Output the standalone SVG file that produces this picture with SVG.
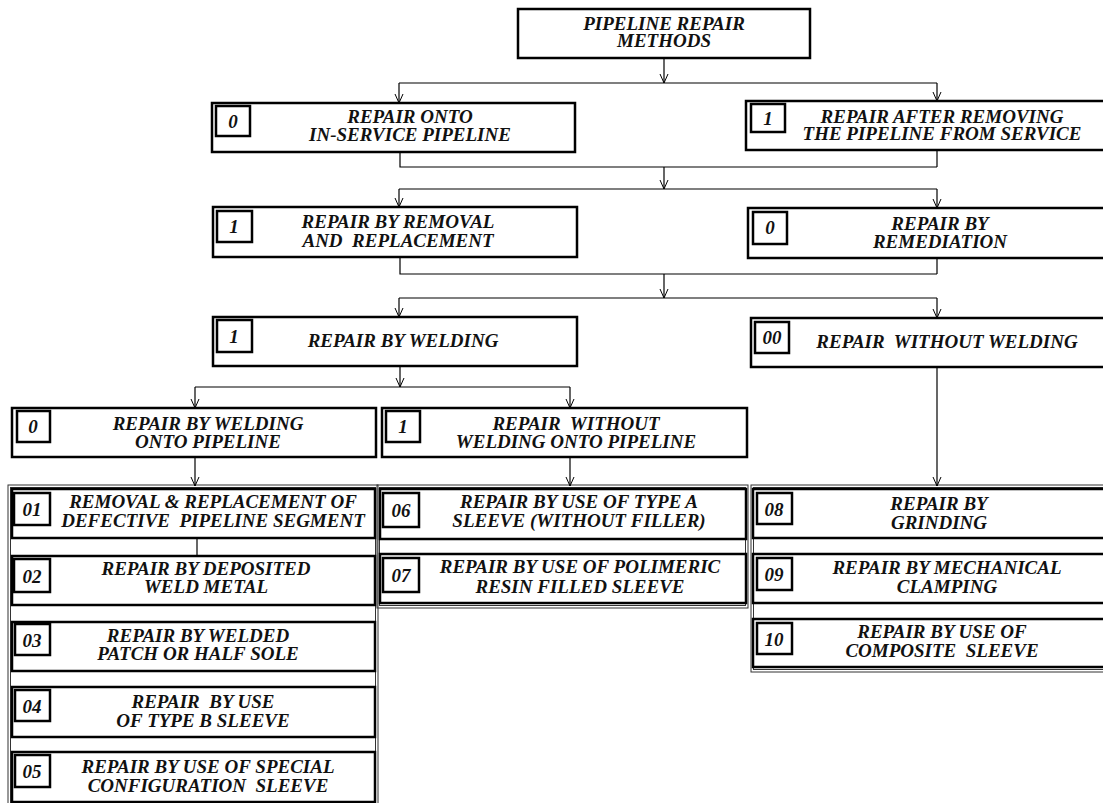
<svg xmlns="http://www.w3.org/2000/svg" width="1103" height="803" viewBox="0 0 1103 803">
<defs>
<style>
.box{fill:#fff;stroke:#000;stroke-width:2.5}
.lbl{fill:#fff;stroke:#000;stroke-width:2.5}
.grp{fill:none;stroke:#333;stroke-width:1}
.c{fill:none;stroke:#000;stroke-width:1.2}
text{font-family:"Liberation Serif","Times New Roman",serif;font-weight:bold;font-style:italic;font-size:19px;text-anchor:middle;white-space:pre;fill:#111}
</style>
<marker id="ah" markerUnits="userSpaceOnUse" markerWidth="12" markerHeight="12" viewBox="-1 -6 12 12" refX="9" refY="0" orient="auto">
<path d="M0,-4 L9,0 L0,4" fill="none" stroke="#000" stroke-width="1"/>
</marker>
</defs>
<rect width="1103" height="803" fill="#fff"/>

<g id="groups">
<rect class="grp" x="8" y="485" width="370" height="325"/>
<rect class="grp" x="10.5" y="487.5" width="365" height="320"/>
<rect class="grp" x="377" y="485" width="371" height="123"/>
<rect class="grp" x="379.5" y="487.5" width="366" height="118"/>
<rect class="grp" x="751" y="485" width="360" height="187"/>
<rect class="grp" x="753.5" y="487.5" width="360" height="182"/>
</g>

<g id="connectors">
<path class="c" d="M664,58 V83" marker-end="url(#ah)"/>
<path class="c" d="M399,83 H937"/>
<path class="c" d="M399,83 V103" marker-end="url(#ah)"/>
<path class="c" d="M937,83 V101" marker-end="url(#ah)"/>
<path class="c" d="M400,152 V167 H937 M937,150 V167"/>
<path class="c" d="M664,167 V189" marker-end="url(#ah)"/>
<path class="c" d="M399,189 H937"/>
<path class="c" d="M399,189 V207" marker-end="url(#ah)"/>
<path class="c" d="M937,189 V208" marker-end="url(#ah)"/>
<path class="c" d="M400,257 V274 H937 M937,258 V274"/>
<path class="c" d="M664,274 V298" marker-end="url(#ah)"/>
<path class="c" d="M399,298 H937"/>
<path class="c" d="M399,298 V317" marker-end="url(#ah)"/>
<path class="c" d="M937,298 V318" marker-end="url(#ah)"/>
<path class="c" d="M400,366 V387" marker-end="url(#ah)"/>
<path class="c" d="M195,387 H570"/>
<path class="c" d="M195,387 V408" marker-end="url(#ah)"/>
<path class="c" d="M570,387 V408" marker-end="url(#ah)"/>
<path class="c" d="M195,457 V486" marker-end="url(#ah)"/>
<path class="c" d="M570,457 V486" marker-end="url(#ah)"/>
<path class="c" d="M937,367 V486" marker-end="url(#ah)"/>
<path class="c" d="M197,538 V556"/>
</g>

<g id="n-root">
<rect class="box" x="518" y="9" width="292" height="49"/>
<text x="664" y="30">PIPELINE REPAIR</text>
<text x="664" y="47">METHODS</text>
</g>

<g id="n-a">
<rect class="box" x="212" y="103" width="363" height="49"/>
<rect class="lbl" x="216" y="106" width="34" height="30"/>
<text x="233" y="128">0</text>
<text x="410" y="123">REPAIR ONTO</text>
<text x="410" y="141">IN-SERVICE PIPELINE</text>
</g>

<g id="n-b">
<rect class="box" x="746" y="101" width="364" height="49"/>
<rect class="lbl" x="751" y="104" width="34" height="28"/>
<text x="768" y="125">1</text>
<text x="942" y="123">REPAIR AFTER REMOVING</text>
<text x="942" y="140">THE PIPELINE FROM SERVICE</text>
</g>

<g id="n-c">
<rect class="box" x="213" y="207" width="364" height="50"/>
<rect class="lbl" x="217" y="211" width="35" height="31"/>
<text x="234" y="233">1</text>
<text x="398" y="228">REPAIR BY REMOVAL</text>
<text x="398" y="247">AND  REPLACEMENT</text>
</g>

<g id="n-d">
<rect class="box" x="748" y="208" width="362" height="50"/>
<rect class="lbl" x="753" y="212" width="34" height="32"/>
<text x="770" y="234">0</text>
<text x="940" y="230">REPAIR BY</text>
<text x="940" y="248">REMEDIATION</text>
</g>

<g id="n-e">
<rect class="box" x="213" y="317" width="364" height="49"/>
<rect class="lbl" x="217" y="320" width="35" height="32"/>
<text x="234" y="343">1</text>
<text x="403" y="347">REPAIR BY WELDING</text>
</g>

<g id="n-f">
<rect class="box" x="751" y="318" width="359" height="49"/>
<rect class="lbl" x="755" y="322" width="34" height="31"/>
<text x="772" y="344">00</text>
<text x="947" y="348">REPAIR  WITHOUT WELDING</text>
</g>

<g id="n-g">
<rect class="box" x="12" y="408" width="364" height="49"/>
<rect class="lbl" x="17" y="411" width="33" height="31"/>
<text x="33" y="433">0</text>
<text x="208" y="430">REPAIR BY WELDING</text>
<text x="208" y="448">ONTO PIPELINE</text>
</g>

<g id="n-h">
<rect class="box" x="382" y="408" width="365" height="49"/>
<rect class="lbl" x="386" y="411" width="34" height="31"/>
<text x="403" y="433">1</text>
<text x="576" y="430">REPAIR  WITHOUT</text>
<text x="576" y="448">WELDING ONTO PIPELINE</text>
</g>

<g id="n-01">
<rect class="box" x="12" y="489" width="363" height="49"/>
<rect class="lbl" x="14" y="493" width="36" height="32"/>
<text x="32" y="516">01</text>
<text x="213" y="508">REMOVAL &amp; REPLACEMENT OF</text>
<text x="213" y="527">DEFECTIVE  PIPELINE SEGMENT</text>
</g>

<g id="n-02">
<rect class="box" x="12" y="556" width="363" height="49"/>
<rect class="lbl" x="14" y="559" width="36" height="33"/>
<text x="32" y="583">02</text>
<text x="206" y="575">REPAIR BY DEPOSITED</text>
<text x="206" y="593">WELD METAL</text>
</g>

<g id="n-03">
<rect class="box" x="12" y="622" width="363" height="49"/>
<rect class="lbl" x="15" y="624" width="35" height="31"/>
<text x="32" y="647">03</text>
<text x="198" y="642">REPAIR BY WELDED</text>
<text x="198" y="660">PATCH OR HALF SOLE</text>
</g>

<g id="n-04">
<rect class="box" x="12" y="687" width="363" height="50"/>
<rect class="lbl" x="15" y="690" width="35" height="31"/>
<text x="32" y="713">04</text>
<text x="203" y="708">REPAIR  BY USE</text>
<text x="203" y="727">OF TYPE B SLEEVE</text>
</g>

<g id="n-05">
<rect class="box" x="12" y="752" width="363" height="50"/>
<rect class="lbl" x="15" y="755" width="35" height="32"/>
<text x="32" y="778">05</text>
<text x="208" y="773">REPAIR BY USE OF SPECIAL</text>
<text x="208" y="792">CONFIGURATION  SLEEVE</text>
</g>

<g id="n-06">
<rect class="box" x="380" y="489" width="366" height="50"/>
<rect class="lbl" x="383" y="493" width="36" height="34"/>
<text x="401" y="517">06</text>
<text x="579" y="508">REPAIR BY USE OF TYPE A</text>
<text x="579" y="527">SLEEVE (WITHOUT FILLER)</text>
</g>

<g id="n-07">
<rect class="box" x="380" y="554" width="366" height="49"/>
<rect class="lbl" x="383" y="558" width="36" height="34"/>
<text x="401" y="582">07</text>
<text x="580" y="573">REPAIR BY USE OF POLIMERIC</text>
<text x="580" y="593">RESIN FILLED SLEEVE</text>
</g>

<g id="n-08">
<rect class="box" x="753" y="489" width="357" height="49"/>
<rect class="lbl" x="757" y="493" width="35" height="31"/>
<text x="774" y="516">08</text>
<text x="939" y="510">REPAIR BY</text>
<text x="939" y="529">GRINDING</text>
</g>

<g id="n-09">
<rect class="box" x="753" y="554" width="357" height="49"/>
<rect class="lbl" x="757" y="558" width="35" height="32"/>
<text x="774" y="581">09</text>
<text x="947" y="574">REPAIR BY MECHANICAL</text>
<text x="947" y="593">CLAMPING</text>
</g>

<g id="n-10">
<rect class="box" x="753" y="619" width="357" height="48"/>
<rect class="lbl" x="757" y="623" width="35" height="31"/>
<text x="774" y="646">10</text>
<text x="942" y="638">REPAIR BY USE OF</text>
<text x="942" y="657">COMPOSITE  SLEEVE</text>
</g>
</svg>
